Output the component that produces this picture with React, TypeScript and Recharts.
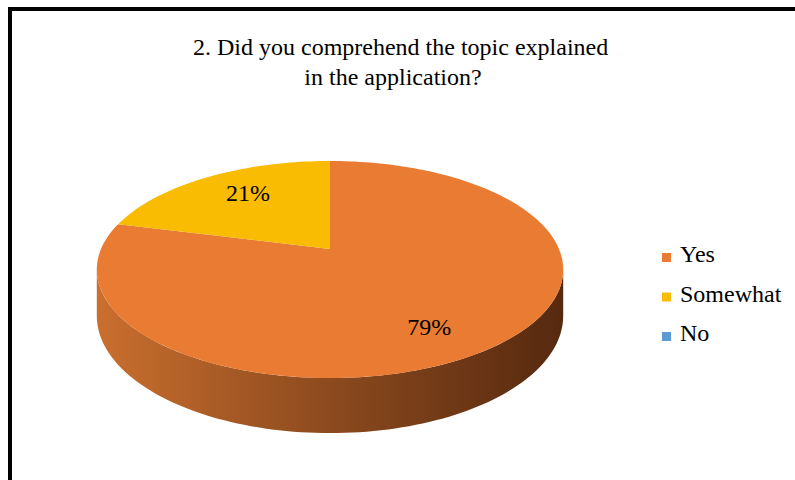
import * as React from 'react'
import { PieChart, Pie, Cell, Legend } from 'recharts'

const categories = ['Yes', 'Somewhat', 'No']
const shares = [79, 21, 0]
const colors = ['#E97B32', '#F9BC02', '#5B9BD5']
const title = ['2. Did you comprehend the topic explained', 'in the application?']

const data = categories.map((name, i) => ({ name, value: shares[i] }))

// fake 3D: perspective tilt of the pie disc
const K = 0.189 // how much the far edge shrinks
const TILT = 0.457 // vertical squash of the disc
const DEPTH = 0.195 // side wall height, as part of radius
const RAD = Math.PI / 180
const FONT = '"Liberation Serif", "Times New Roman", serif'

function project(cx: number, cy: number, R: number, frac: number, deg: number) {
  const u = frac * Math.cos(deg * RAD)
  const v = frac * Math.sin(deg * RAD)
  const den = 1 + K * v
  return { x: cx + (R * u) / den, y: cy - (R * TILT * v) / den, den }
}

function arc(cx: number, cy: number, R: number, a0: number, a1: number) {
  const n = Math.max(2, Math.ceil(Math.abs(a1 - a0) / 1.5))
  const pts = []
  for (let i = 0; i <= n; i++) pts.push(project(cx, cy, R, 1, a0 + ((a1 - a0) * i) / n))
  return pts
}

const edge = Math.asin(K) / RAD
const FRONT_LO = -180 + edge
const FRONT_HI = -edge

const Slice3D = (props: any) => {
  const { cx, cy, outerRadius: R, startAngle, endAngle, fill } = props
  if (startAngle === endAngle) return null
  const lo = Math.min(startAngle, endAngle)
  const hi = Math.max(startAngle, endAngle)

  // side wall, only the part facing the viewer
  const sides: string[] = []
  for (const shift of [-720, -360, 0, 360, 720]) {
    const l = Math.max(lo, FRONT_LO + shift)
    const h = Math.min(hi, FRONT_HI + shift)
    if (h <= l) continue
    const top = arc(cx, cy, R, l, h)
    const bottom = top
      .slice()
      .reverse()
      .map((p) => ({ x: p.x, y: p.y + (R * DEPTH) / p.den }))
    sides.push(
      'M' + top.concat(bottom).map((p) => `${p.x.toFixed(2)},${p.y.toFixed(2)}`).join('L') + 'Z'
    )
  }

  const face =
    `M${cx},${cy}L` +
    arc(cx, cy, R, startAngle, endAngle)
      .map((p) => `${p.x.toFixed(2)},${p.y.toFixed(2)}`)
      .join('L') +
    'Z'

  return (
    <g>
      {sides.map((d, i) => (
        <path key={i} d={d} fill="url(#pie-side)" stroke="none" />
      ))}
      <path d={face} fill={fill} stroke="none" />
    </g>
  )
}

const renderLabel = (p: any) => {
  if (!p.value) return null
  const pt = project(p.cx, p.cy, p.outerRadius, 0.64, p.midAngle)
  const v = Math.sin(p.midAngle * RAD)
  return (
    <text
      x={pt.x}
      y={pt.y + 6 - v * 17}
      textAnchor="middle"
      dominantBaseline="central"
      fill="#000"
      fontFamily={FONT}
      fontSize={24}
    >
      {`${Math.round(p.percent * 100)}%`}
    </text>
  )
}

const renderLegend = () => (
  <svg width={130} height={120}>
    {categories.map((c, i) => (
      <g key={c}>
        <rect x={0} y={18 + i * 39.5} width={9} height={9} fill={colors[i]} />
        <text x={18} y={27 + i * 39.5} fontFamily={FONT} fontSize={24} fill="#000">
          {c}
        </text>
      </g>
    ))}
  </svg>
)

export default function App() {
  return (
    <div style={{ position: 'relative', width: 795, height: 480, overflow: 'hidden', background: '#fff' }}>
      <style>{'body{margin:0}'}</style>
      <div
        style={{
          position: 'absolute',
          left: 8,
          top: 7,
          width: 820,
          height: 500,
          borderLeft: '4px solid #000',
          borderTop: '4px solid #000',
        }}
      />
      <div
        style={{
          position: 'absolute',
          left: 193,
          top: 32,
          width: 400,
          textAlign: 'center',
          fontFamily: FONT,
          fontSize: 24,
          lineHeight: '30px',
          color: '#000',
          whiteSpace: 'nowrap',
        }}
      >
        {title.map((t) => (
          <div key={t}>{t}</div>
        ))}
      </div>
      <div style={{ position: 'absolute', left: 0, top: 0 }}>
        <PieChart width={795} height={480} margin={{ top: 0, right: 0, bottom: 0, left: 0 }}>
          <defs>
            <linearGradient id="pie-side" x1="0" y1="0" x2="1" y2="0">
              <stop offset="0%" stopColor="#CA6F2E" />
              <stop offset="50%" stopColor="#8C4A1E" />
              <stop offset="100%" stopColor="#56290F" />
            </linearGradient>
          </defs>
          <Pie
            data={data}
            dataKey="value"
            nameKey="name"
            cx={330}
            cy={249}
            outerRadius={229}
            startAngle={90}
            endAngle={-270}
            stroke="none"
            shape={Slice3D}
            label={renderLabel}
            labelLine={false}
            isAnimationActive={false}
          >
            {data.map((d, i) => (
              <Cell key={d.name} fill={colors[i]} />
            ))}
          </Pie>
          <Legend
            layout="vertical"
            align="right"
            verticalAlign="middle"
            content={renderLegend}
            wrapperStyle={{ left: 662, top: 235, right: 'auto', bottom: 'auto', width: 130 }}
          />
        </PieChart>
      </div>
    </div>
  )
}
